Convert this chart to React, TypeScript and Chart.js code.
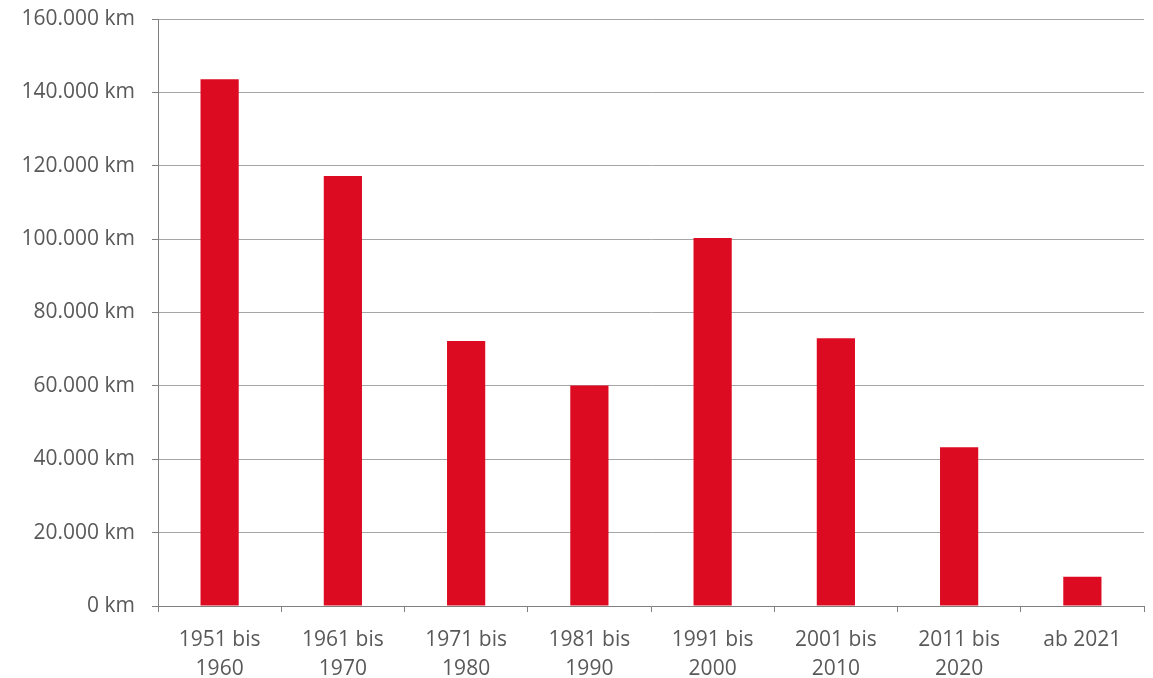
import React, { useEffect, useRef } from "react";
import { Chart, registerables } from "chart.js";

Chart.register(...registerables);

// Decades and their kilometre totals
const categories: string[][] = [
  ["1951 bis", "1960"],
  ["1961 bis", "1970"],
  ["1971 bis", "1980"],
  ["1981 bis", "1990"],
  ["1991 bis", "2000"],
  ["2001 bis", "2010"],
  ["2011 bis", "2020"],
  ["ab 2021"],
];
const kilometres: number[] = [143600, 117200, 72200, 60100, 100300, 73000, 43300, 8000];

const yMin = 0;
const yMax = 160000;
const yStep = 20000;

const BAR_RED = "#DD0B22";
const TEXT_GREY = "#595959";
const GRID_GREY = "#A6A6A6";
const AXIS_GREY = "#808080";
const FONT = "'Open Sans', 'Noto Sans', sans-serif";

const formatKm = (v: number) =>
  v.toLocaleString("de-DE", { maximumFractionDigits: 0 }).replace(/,/g, ".") + " km";

export default function App() {
  const canvasRef = useRef<HTMLCanvasElement | null>(null);

  useEffect(() => {
    if (!canvasRef.current) return;
    const chart = new Chart(canvasRef.current, {
      type: "bar",
      data: {
        labels: categories,
        datasets: [
          {
            data: kilometres,
            backgroundColor: BAR_RED,
            borderWidth: 0,
            categoryPercentage: 1,
            barPercentage: 0.31,
          },
        ],
      },
      options: {
        animation: false,
        responsive: false,
        maintainAspectRatio: false,
        layout: { padding: { top: 19, right: 9, bottom: 0, left: 0 } },
        plugins: {
          legend: { display: false },
          tooltip: { enabled: false },
          title: { display: false },
        },
        scales: {
          x: {
            grid: {
              offset: true,
              drawOnChartArea: false,
              drawTicks: true,
              tickLength: 6,
              tickColor: AXIS_GREY,
              lineWidth: 1,
            },
            border: { display: true, color: AXIS_GREY, width: 1 },
            ticks: {
              color: TEXT_GREY,
              font: { family: FONT, size: 21, lineHeight: 1.4 },
              padding: 13,
              maxRotation: 0,
              autoSkip: false,
            },
            afterFit: (scale: any) => {
              scale.height = 72;
            },
          },
          y: {
            min: yMin,
            max: yMax,
            grid: {
              color: GRID_GREY,
              lineWidth: 1,
              drawTicks: true,
              tickLength: 6,
              tickColor: AXIS_GREY,
            },
            border: { display: true, color: AXIS_GREY, width: 1 },
            ticks: {
              stepSize: yStep,
              color: TEXT_GREY,
              font: { family: FONT, size: 21 },
              padding: 17,
              callback: (v: any) => formatKm(Number(v)),
            },
            afterFit: (scale: any) => {
              scale.width = 158;
              scale.paddingTop = 0;
              scale.paddingBottom = 0;
            },
          },
        },
      },
    });
    return () => chart.destroy();
  }, []);

  return (
    <div style={{ position: "fixed", left: 0, top: 0, width: 1153, height: 678, background: "#fff" }}>
      <canvas ref={canvasRef} width={1153} height={678} style={{ display: "block" }} />
    </div>
  );
}
